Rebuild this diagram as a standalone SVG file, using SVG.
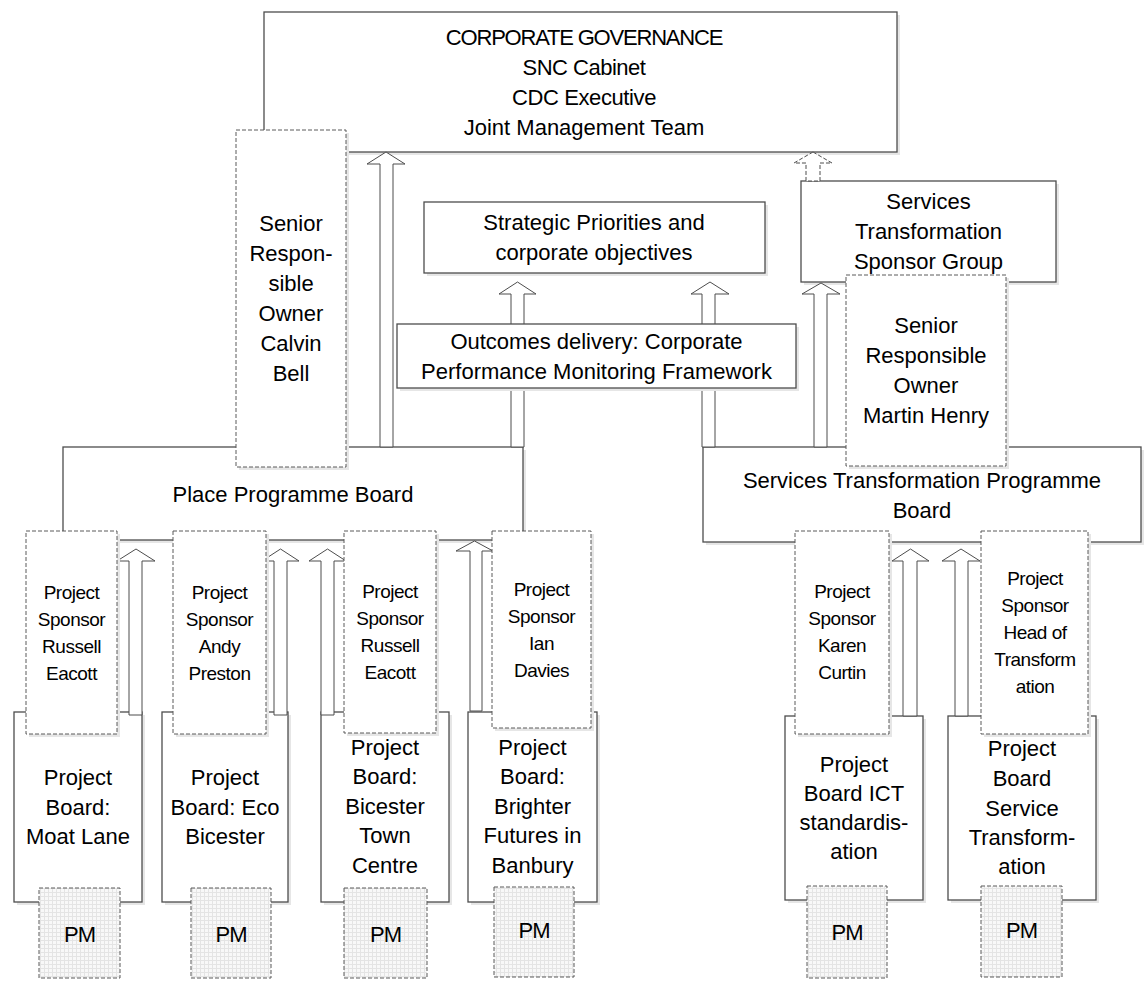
<svg xmlns="http://www.w3.org/2000/svg" width="1145" height="981" viewBox="0 0 1145 981">
<defs>
<pattern id="grid" width="4" height="4" patternUnits="userSpaceOnUse">
<rect width="4" height="4" fill="#f8f8f8"/>
<path d="M0 0.5H4M0.5 0V4" stroke="#e4e4e4" stroke-width="1"/>
</pattern>
</defs>
<style>
.box{fill:#fff;stroke:#4d4d4d;stroke-width:1.3}
.dbox{fill:#fff;stroke:#5a5a5a;stroke-width:1;stroke-dasharray:4 2}
.pm{fill:url(#grid);stroke:#5a5a5a;stroke-width:1;stroke-dasharray:4 2}
.sh{fill:#e6e6e6}
.arr{fill:#fff;stroke:#4d4d4d;stroke-width:1}
.darr{fill:#fff;stroke:#4d4d4d;stroke-width:1;stroke-dasharray:4 2}
text{font-family:"Liberation Sans",Arial,sans-serif;fill:#000;text-anchor:middle}
.t22{font-size:22px}
.t19{font-size:19px;letter-spacing:-0.5px}
</style>
<rect width="1145" height="981" fill="#fff"/>

<g id="nodes-base">
<g id="corporate-governance">
<rect class="sh" x="267" y="15" width="633" height="140"/>
<rect class="box" x="264" y="12" width="633" height="140"/>
<text class="t22" x="584" y="45" style="letter-spacing:-1.2px">CORPORATE GOVERNANCE</text>
<text class="t22" x="584" y="75" style="letter-spacing:-0.5px">SNC Cabinet</text>
<text class="t22" x="584" y="105" style="letter-spacing:-0.4px">CDC Executive</text>
<text class="t22" x="584" y="135">Joint Management Team</text>
</g>
<g id="strategic-priorities">
<rect class="sh" x="427" y="205" width="341" height="71"/>
<rect class="box" x="424" y="202" width="341" height="71"/>
<text class="t22" x="594" y="230">Strategic Priorities and</text>
<text class="t22" x="594" y="260">corporate objectives</text>
</g>
<g id="services-sponsor-group">
<rect class="sh" x="804" y="184" width="255" height="101"/>
<rect class="box" x="801" y="181" width="255" height="101"/>
<text class="t22" x="928.5" y="209">Services</text>
<text class="t22" x="928.5" y="239">Transformation</text>
<text class="t22" x="928.5" y="269">Sponsor Group</text>
</g>
<g id="place-programme-board">
<rect class="sh" x="66" y="450" width="460" height="93"/>
<rect class="box" x="63" y="447" width="460" height="93"/>
<text class="t22" x="293" y="502">Place Programme Board</text>
</g>
<g id="services-programme-board">
<rect class="sh" x="706" y="450" width="438" height="95"/>
<rect class="box" x="703" y="447" width="438" height="95"/>
<text class="t22" x="922" y="488">Services Transformation Programme</text>
<text class="t22" x="922" y="518">Board</text>
</g>
<g id="pb-moat-lane">
<rect class="sh" x="17" y="715" width="128" height="190"/>
<rect class="box" x="14" y="712" width="128" height="190"/>
<text class="t22" x="78" y="785">Project</text>
<text class="t22" x="78" y="815">Board:</text>
<text class="t22" x="78" y="844">Moat Lane</text>
</g>
<g id="pb-eco-bicester">
<rect class="sh" x="165" y="715" width="126" height="190"/>
<rect class="box" x="162" y="712" width="126" height="190"/>
<text class="t22" x="225" y="785">Project</text>
<text class="t22" x="225" y="815">Board: Eco</text>
<text class="t22" x="225" y="844">Bicester</text>
</g>
<g id="pb-bicester-town">
<rect class="sh" x="324" y="715" width="128" height="190"/>
<rect class="box" x="321" y="712" width="128" height="190"/>
<text class="t22" x="385" y="755">Project</text>
<text class="t22" x="385" y="784">Board:</text>
<text class="t22" x="385" y="814">Bicester</text>
<text class="t22" x="385" y="843">Town</text>
<text class="t22" x="385" y="873">Centre</text>
</g>
<g id="pb-brighter-futures">
<rect class="sh" x="471" y="715" width="129" height="190"/>
<rect class="box" x="468" y="712" width="129" height="190"/>
<text class="t22" x="532.5" y="755">Project</text>
<text class="t22" x="532.5" y="784">Board:</text>
<text class="t22" x="532.5" y="814">Brighter</text>
<text class="t22" x="532.5" y="843">Futures in</text>
<text class="t22" x="532.5" y="873">Banbury</text>
</g>
<g id="pb-ict">
<rect class="sh" x="788" y="719" width="138" height="184"/>
<rect class="box" x="785" y="716" width="138" height="184"/>
<text class="t22" x="854" y="772">Project</text>
<text class="t22" x="854" y="801">Board ICT</text>
<text class="t22" x="854" y="830">standardis-</text>
<text class="t22" x="854" y="859">ation</text>
</g>
<g id="pb-service-transformation">
<rect class="sh" x="951" y="719" width="148" height="184"/>
<rect class="box" x="948" y="716" width="148" height="184"/>
<text class="t22" x="1022" y="756">Project</text>
<text class="t22" x="1022" y="786">Board</text>
<text class="t22" x="1022" y="816">Service</text>
<text class="t22" x="1022" y="845">Transform-</text>
<text class="t22" x="1022" y="874">ation</text>
</g>
</g>

<g id="connectors">
<polygon class="arr" points="386,152 405,164 393,164 393,447 380,447 380,164 367,164"/>
<polygon class="arr" points="517.5,282 536,294 524,294 524,447 511,447 511,294 499,294"/>
<polygon class="arr" points="710,282 729,294 715,294 715,447 702,447 702,294 691,294"/>
<polygon class="arr" points="821,283 840,294 827,294 827,447 814,447 814,294 802,294"/>
<polygon class="darr" points="813,152 832,163 820,163 820,181 806,181 806,163 794,163"/>
<polygon class="arr" points="136,549 155,561 142,561 142,715 129,715 129,561 117,561"/>
<polygon class="arr" points="280.5,549 299,561 287,561 287,715 274,715 274,561 262,561"/>
<polygon class="arr" points="327.5,549 346,561 334,561 334,715 321,715 321,561 309,561"/>
<polygon class="arr" points="474.5,541 493,551 482,551 482,711 470,711 470,551 456,551"/>
<polygon class="arr" points="910.5,549 929,561 917,561 917,716 903,716 903,561 892,561"/>
<polygon class="arr" points="961,549 980,561 968,561 968,716 955,716 955,561 942,561"/>
</g>

<g id="nodes-overlay">
<g id="outcomes-delivery">
<rect class="sh" x="400" y="327" width="399" height="64"/>
<rect class="box" x="397" y="324" width="399" height="64"/>
<text class="t22" x="596.5" y="349">Outcomes delivery: Corporate</text>
<text class="t22" x="596.5" y="379">Performance Monitoring Framework</text>
</g>
<g id="sro-calvin-bell">
<rect class="sh" x="239" y="133" width="110" height="337"/>
<rect class="dbox" x="236" y="130" width="110" height="337"/>
<text class="t22" x="291" y="231">Senior</text>
<text class="t22" x="291" y="261">Respon-</text>
<text class="t22" x="291" y="291">sible</text>
<text class="t22" x="291" y="321">Owner</text>
<text class="t22" x="291" y="351">Calvin</text>
<text class="t22" x="291" y="381">Bell</text>
</g>
<g id="sro-martin-henry">
<rect class="sh" x="849" y="278" width="160" height="191"/>
<rect class="dbox" x="846" y="275" width="160" height="191"/>
<text class="t22" x="926" y="333">Senior</text>
<text class="t22" x="926" y="363">Responsible</text>
<text class="t22" x="926" y="393">Owner</text>
<text class="t22" x="926" y="423">Martin Henry</text>
</g>
<g id="sponsor-russell-eacott-1">
<rect class="sh" x="29" y="534" width="91" height="203"/>
<rect class="dbox" x="26" y="531" width="91" height="203"/>
<text class="t19" x="71.5" y="599">Project</text>
<text class="t19" x="71.5" y="626">Sponsor</text>
<text class="t19" x="71.5" y="653">Russell</text>
<text class="t19" x="71.5" y="680">Eacott</text>
</g>
<g id="sponsor-andy-preston">
<rect class="sh" x="176" y="534" width="93" height="203"/>
<rect class="dbox" x="173" y="531" width="93" height="203"/>
<text class="t19" x="219.5" y="599">Project</text>
<text class="t19" x="219.5" y="626">Sponsor</text>
<text class="t19" x="219.5" y="653">Andy</text>
<text class="t19" x="219.5" y="680">Preston</text>
</g>
<g id="sponsor-russell-eacott-2">
<rect class="sh" x="347" y="534" width="92" height="202"/>
<rect class="dbox" x="344" y="531" width="92" height="202"/>
<text class="t19" x="390" y="598">Project</text>
<text class="t19" x="390" y="625">Sponsor</text>
<text class="t19" x="390" y="652">Russell</text>
<text class="t19" x="390" y="679">Eacott</text>
</g>
<g id="sponsor-ian-davies">
<rect class="sh" x="495" y="534" width="99" height="197"/>
<rect class="dbox" x="492" y="531" width="99" height="197"/>
<text class="t19" x="541.5" y="596">Project</text>
<text class="t19" x="541.5" y="623">Sponsor</text>
<text class="t19" x="541.5" y="650">Ian</text>
<text class="t19" x="541.5" y="677">Davies</text>
</g>
<g id="sponsor-karen-curtin">
<rect class="sh" x="798" y="534" width="94" height="203"/>
<rect class="dbox" x="795" y="531" width="94" height="203"/>
<text class="t19" x="842" y="598">Project</text>
<text class="t19" x="842" y="625">Sponsor</text>
<text class="t19" x="842" y="652">Karen</text>
<text class="t19" x="842" y="679">Curtin</text>
</g>
<g id="sponsor-head-of-transformation">
<rect class="sh" x="984" y="534" width="107" height="203"/>
<rect class="dbox" x="981" y="531" width="107" height="203"/>
<text class="t19" x="1035" y="585">Project</text>
<text class="t19" x="1035" y="612">Sponsor</text>
<text class="t19" x="1035" y="639">Head of</text>
<text class="t19" x="1035" y="666">Transform</text>
<text class="t19" x="1035" y="693">ation</text>
</g>
<g id="pm-1"><rect class="pm" x="39" y="888" width="81" height="90"/><text class="t22" x="79.5" y="942" style="letter-spacing:-1px">PM</text></g>
<g id="pm-2"><rect class="pm" x="191" y="888" width="80" height="90"/><text class="t22" x="231" y="942" style="letter-spacing:-1px">PM</text></g>
<g id="pm-3"><rect class="pm" x="344" y="888" width="83" height="90"/><text class="t22" x="385.5" y="942" style="letter-spacing:-1px">PM</text></g>
<g id="pm-4"><rect class="pm" x="494" y="887" width="80" height="90"/><text class="t22" x="534" y="938" style="letter-spacing:-1px">PM</text></g>
<g id="pm-5"><rect class="pm" x="807" y="886" width="80" height="92"/><text class="t22" x="847" y="940" style="letter-spacing:-1px">PM</text></g>
<g id="pm-6"><rect class="pm" x="981" y="886" width="81" height="91"/><text class="t22" x="1021.5" y="938" style="letter-spacing:-1px">PM</text></g>
</g>
</svg>
